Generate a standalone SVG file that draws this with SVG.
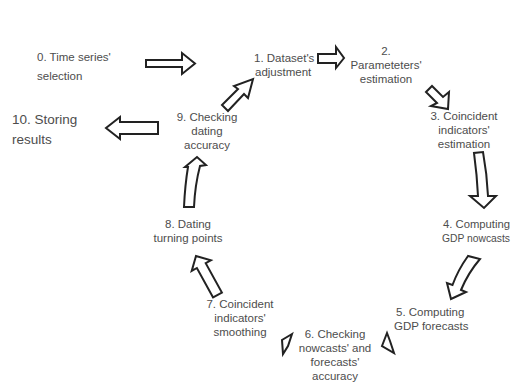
<svg xmlns="http://www.w3.org/2000/svg" width="518" height="383" viewBox="0 0 518 383">
<style>
  .lbl { font-family: "Liberation Sans", Arial, sans-serif; font-size: 11.5px; fill: #4d4d4d; }
  .big { font-size: 13.5px; }
  .c { text-anchor: middle; }
  .arr { fill: #fff; stroke: #222; stroke-width: 2; stroke-linejoin: miter; }
</style>
<rect width="518" height="383" fill="#fff"/>
<g id="connectors">
  <!-- 0 -> 1 -->
  <polygon class="arr" points="146,60 182,60 182,53 195,63.5 182,74 182,67 146,67"/>
  <!-- 9 -> 10 -->
  <polygon class="arr" points="158,122 120,122 120,117 106,128 120,139 120,134 158,134"/>
  <!-- 1 -> 2 -->
  <polygon class="arr" points="318,54 336,54 336,47 344,58 336,68 336,63 318,63"/>
  <!-- 2 -> 3 -->
  <polygon class="arr" points="426,92 432,86 443,97 449,92 448,109 431,106 437,103"/>
  <!-- 3 -> 4 -->
  <path class="arr" d="M474,153 Q477,175 478,196 L470,196 L484,208 L496,196 L488,196 Q487,174 483,152 Z"/>
  <!-- 4 -> 5 -->
  <path class="arr" d="M468,256 Q458,270 452.5,285 L447,283 L451,299 L466,292 L461,290 Q468,273 480,259 Z"/>
  <!-- 5 -> 6 -->
  <polygon class="arr" points="387,333 382,346 394,353 390,341"/>
  <!-- 6 -> 7 -->
  <polygon class="arr" points="292,334 282,340 283,354 288,346"/>
  <!-- 7 -> 8 -->
  <polygon class="arr" points="213.1,297.4 196.9,268 191.7,270.9 196,256 210.9,260.3 205.7,263.2 221.9,292.6"/>
  <!-- 8 -> 9 -->
  <path class="arr" d="M184,207 Q185,185 188,167 L185,167 L197,157 L206,165 L200,166 Q195,185 194,207 Z"/>
  <!-- 9 -> 1 -->
  <polygon class="arr" points="222,105 238,89 234,86 253,79 248,98 244,94 228,111"/>
</g>
<g id="n0"><text class="lbl" x="37" y="61">0. Time series'</text><text class="lbl" x="37" y="80">selection</text></g>
<g id="n1"><text class="lbl" x="254" y="62">1. Dataset's</text><text class="lbl" x="255" y="76">adjustment</text></g>
<g id="n2"><text class="lbl c" x="386" y="55">2.</text><text class="lbl c" x="386" y="69">Parameteters'</text><text class="lbl c" x="386" y="83">estimation</text></g>
<g id="n3"><text class="lbl c" x="464" y="120">3. Coincident</text><text class="lbl c" x="464" y="134">indicators'</text><text class="lbl c" x="464" y="148">estimation</text></g>
<g id="n4"><text class="lbl" x="443" y="228" textLength="67" lengthAdjust="spacingAndGlyphs">4.  Computing</text><text class="lbl" x="442" y="242" textLength="68" lengthAdjust="spacingAndGlyphs">GDP nowcasts</text></g>
<g id="n5"><text class="lbl" x="396" y="316">5. Computing</text><text class="lbl" x="394" y="330">GDP forecasts</text></g>
<g id="n6"><text class="lbl c" x="335" y="338">6. Checking</text><text class="lbl c" x="335" y="352">nowcasts' and</text><text class="lbl c" x="335" y="366">forecasts'</text><text class="lbl c" x="335" y="380">accuracy</text></g>
<g id="n7"><text class="lbl c" x="240" y="308">7. Coincident</text><text class="lbl c" x="240" y="322">indicators'</text><text class="lbl c" x="240" y="336">smoothing</text></g>
<g id="n8"><text class="lbl c" x="188" y="228">8. Dating</text><text class="lbl c" x="188" y="242">turning points</text></g>
<g id="n9"><text class="lbl c" x="207" y="121">9. Checking</text><text class="lbl c" x="207" y="135">dating</text><text class="lbl c" x="207" y="149">accuracy</text></g>
<g id="n10"><text class="lbl big" x="12" y="124">10. Storing</text><text class="lbl big" x="12" y="144">results</text></g>
</svg>
